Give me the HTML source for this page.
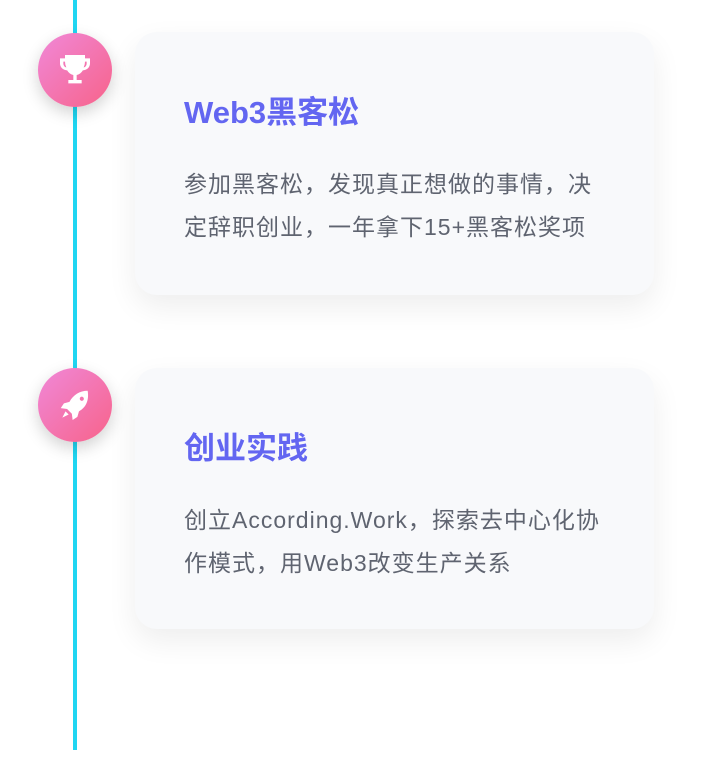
<!DOCTYPE html>
<html><head><meta charset="utf-8"><style>
body{margin:0;width:703px;height:768px;background:#fff;position:relative;overflow:hidden;font-family:"Liberation Sans","Noto Sans CJK SC",sans-serif}
.line{position:absolute;left:73px;top:0;width:4px;height:750px;background:#1fd6f2}
.dot{position:absolute;left:38px;width:74px;height:74px;border-radius:50%;background:linear-gradient(135deg,#f088d8,#f7638a);box-shadow:0 6px 16px rgba(0,0,0,.18);display:flex;align-items:center;justify-content:center}
.card{position:absolute;left:135px;width:519px;background:#f8f9fb;border-radius:22px;box-shadow:0 12px 30px rgba(0,0,0,.07)}
.card h3{margin:0;position:absolute;left:49px;font-size:31px;font-weight:bold;color:#6366f1}
.card p{margin:0;position:absolute;left:49px;width:430px;font-size:23px;letter-spacing:1px;line-height:43px;color:#5f6470}
</style></head><body>
<div class="line"></div>
<div class="card" style="top:32px;height:263px"><h3 style="top:55px">Web3黑客松</h3><p style="top:131px">参加黑客松，发现真正想做的事情，决定辞职创业，一年拿下15+黑客松奖项</p></div>
<div class="card" style="top:368px;height:261px"><h3 style="top:55px">创业实践</h3><p style="top:131px">创立According.Work，探索去中心化协作模式，用Web3改变生产关系</p></div>
<div class="dot" style="top:33px"><svg width="40" height="40" viewBox="0 0 24 24"><path d="M6 3h12v2h3v3c0 2.5-2 4-4.3 4.2A6 6 0 0 1 13 15v3h3v2H8v-2h3v-3a6 6 0 0 1-3.7-2.8C5 12 3 10.5 3 8V5h3zM5 7v1c0 1.3.8 2.2 1.8 2.5A8 8 0 0 1 6 7zm14 0h-1a8 8 0 0 1-.8 3.5C18.2 10.2 19 9.3 19 8z" fill="#fff"/></svg></div>
<div class="dot" style="top:368px"><svg width="38" height="38" viewBox="0 0 24 24"><path d="M20 3c-5 0-9 2.5-11.5 7L5 11l-2 3 4 .5 3 3 .5 4 3-2 1-3.5C19 13.5 21 9 20 3zM15 8a1.3 1.3 0 1 1 0 .1zM6 16l-2 4 4-2z" fill="#fff"/></svg></div>
</body></html>
